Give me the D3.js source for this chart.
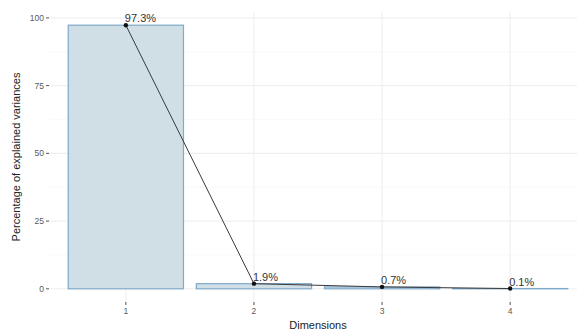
<!DOCTYPE html>
<html>
<head>
<meta charset="utf-8">
<script src="https://cdn.jsdelivr.net/npm/d3@7"></script>
<style>
  body { margin: 0; background: #fff; }
  svg { display: block; font-family: "Liberation Sans", Arial, sans-serif; }
</style>
</head>
<body>
<svg id="chart" width="577" height="333"></svg>
<script>
// Scree plot: share of variance explained by each dimension
const dimensions = ["1", "2", "3", "4"];
const explained = [97.3, 1.9, 0.7, 0.1];
const yTicks = [0, 25, 50, 75, 100];
const yMinor = [12.5, 37.5, 62.5, 87.5];

const svg = d3.select("#chart");
const W = 577, H = 333;
const panel = { left: 49, right: 587, top: 12, bottom: 302 };

// discrete x axis with ggplot-style padding of 0.6 of a step on each side
const step = (panel.right - panel.left) / (dimensions.length - 1 + 1.2);
const x = d3.scalePoint()
  .domain(dimensions)
  .range([panel.left + 0.6 * step, panel.right - 0.6 * step]);
const barW = step * 0.9;

const maxV = d3.max(explained);
const y = d3.scaleLinear()
  .domain([-maxV * 0.05, maxV * 1.05])
  .range([panel.bottom, panel.top]);

svg.append("clipPath").attr("id", "panelClip")
  .append("rect")
  .attr("x", panel.left).attr("y", panel.top)
  .attr("width", W - panel.left).attr("height", panel.bottom - panel.top);

const g = svg.append("g").attr("clip-path", "url(#panelClip)");

// grid lines
g.selectAll(".minor").data(yMinor).join("line")
  .attr("x1", panel.left).attr("x2", panel.right)
  .attr("y1", d => y(d)).attr("y2", d => y(d))
  .attr("stroke", "#f5f5f5").attr("stroke-width", 0.6);
g.selectAll(".major").data(yTicks).join("line")
  .attr("x1", panel.left).attr("x2", panel.right)
  .attr("y1", d => y(d)).attr("y2", d => y(d))
  .attr("stroke", "#efefef").attr("stroke-width", 1.1);
g.selectAll(".vmajor").data(dimensions).join("line")
  .attr("x1", d => x(d)).attr("x2", d => x(d))
  .attr("y1", panel.top).attr("y2", panel.bottom)
  .attr("stroke", "#efefef").attr("stroke-width", 1.1);

// bars
g.selectAll(".bar").data(explained).join("rect")
  .attr("x", (d, i) => x(dimensions[i]) - barW / 2)
  .attr("width", barW)
  .attr("y", d => y(d))
  .attr("height", d => y(0) - y(d))
  .attr("fill", "#cfdfe5")
  .attr("stroke", "#80a9ca")
  .attr("stroke-width", 1.2);

// connecting line and points
const line = d3.line()
  .x((d, i) => x(dimensions[i]))
  .y(d => y(d));
g.append("path").datum(explained)
  .attr("d", line)
  .attr("fill", "none")
  .attr("stroke", "#3a3a3a")
  .attr("stroke-width", 1);
g.selectAll(".pt").data(explained).join("circle")
  .attr("cx", (d, i) => x(dimensions[i]))
  .attr("cy", d => y(d))
  .attr("r", 2.2)
  .attr("fill", "#111");

// value labels
svg.selectAll(".lab").data(explained).join("text")
  .attr("x", (d, i) => x(dimensions[i]) - 1)
  .attr("y", d => y(d) - 3)
  .attr("font-size", 11)
  .attr("fill", "#333")
  .text(d => d.toFixed(1) + "%");

// y axis
const yAxis = svg.append("g");
yAxis.selectAll("line").data(yTicks).join("line")
  .attr("x1", panel.left - 3).attr("x2", panel.left)
  .attr("y1", d => y(d)).attr("y2", d => y(d))
  .attr("stroke", "#555").attr("stroke-width", 1);
yAxis.selectAll("text").data(yTicks).join("text")
  .attr("x", panel.left - 5)
  .attr("y", d => y(d))
  .attr("dy", "0.35em")
  .attr("text-anchor", "end")
  .attr("font-size", 8.5)
  .attr("fill", "#5a5a5a")
  .text(d => d);

// x axis
const xAxis = svg.append("g");
xAxis.selectAll("line").data(dimensions).join("line")
  .attr("x1", d => x(d)).attr("x2", d => x(d))
  .attr("y1", panel.bottom).attr("y2", panel.bottom + 3)
  .attr("stroke", "#555").attr("stroke-width", 1);
xAxis.selectAll("text").data(dimensions).join("text")
  .attr("x", d => x(d))
  .attr("y", panel.bottom + 12)
  .attr("text-anchor", "middle")
  .attr("font-size", 8.5)
  .attr("fill", "#5a5a5a")
  .text(d => d);

// axis titles
svg.append("text")
  .attr("x", (panel.left + panel.right) / 2)
  .attr("y", 329)
  .attr("text-anchor", "middle")
  .attr("font-size", 11)
  .attr("fill", "#222")
  .text("Dimensions");
svg.append("text")
  .attr("transform", `translate(20,${(panel.top + panel.bottom) / 2}) rotate(-90)`)
  .attr("text-anchor", "middle")
  .attr("font-size", 11)
  .attr("fill", "#222")
  .text("Percentage of explained variances");
</script>
</body>
</html>
